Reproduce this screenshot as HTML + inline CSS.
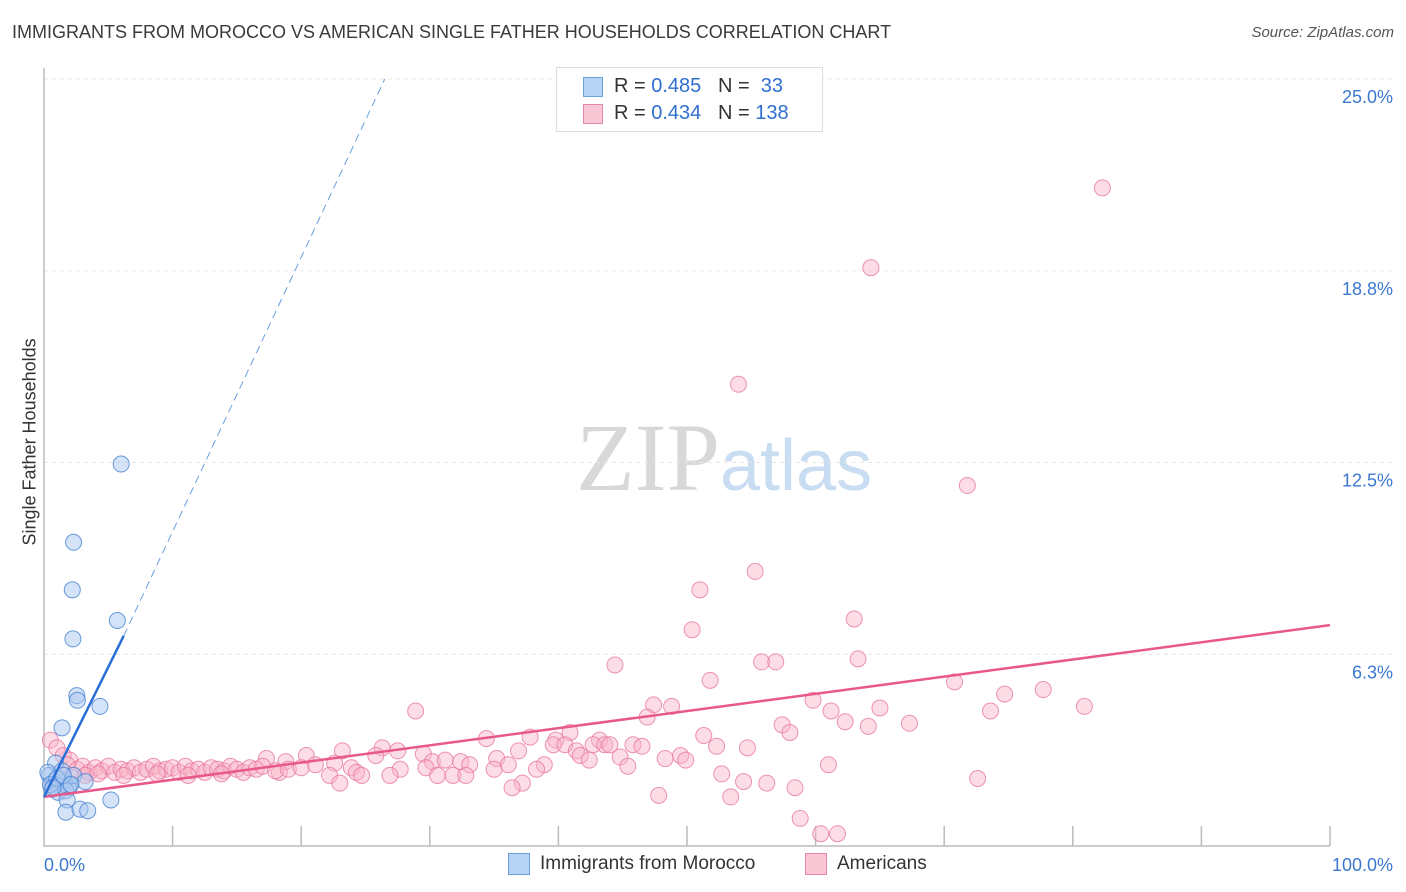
<!DOCTYPE html>
<html><head><meta charset="utf-8"><style>
body{margin:0;background:#fff;font-family:"Liberation Sans",sans-serif;}
#wrap{position:relative;width:1406px;height:892px;overflow:hidden;}
.t{position:absolute;white-space:nowrap;}
</style></head><body>
<div id="wrap">
<div class="t" style="left:12px;top:22px;font-size:18px;color:#3a3a3a;">IMMIGRANTS FROM MOROCCO VS AMERICAN SINGLE FATHER HOUSEHOLDS CORRELATION CHART</div>
<div class="t" style="right:12px;top:24px;font-size:15px;color:#555;font-style:italic;">Source: ZipAtlas.com</div>
<svg id="svg" width="1406" height="892" style="position:absolute;left:0;top:0">
<text x="720" y="490" font-size="96" font-family="Liberation Serif" fill="#d8d8d8" text-anchor="end">ZIP</text>
<text x="720" y="490" font-size="72" fill="#c8dcf2">atlas</text>
<g id="grid"></g><g id="pts"></g><g id="lines"></g>
</svg>
<div style="position:absolute;left:556px;top:67px;width:265px;height:63px;border:1px solid #ddd;background:#fff;font-size:20px;color:#333;">
<div style="position:absolute;left:26px;top:9px;width:18px;height:18px;background:#b8d4f5;border:1px solid #6a9fe0;"></div>
<div class="t" style="left:57px;top:7px;">R = <span style="color:#2f6fd0">0.485</span>&nbsp;&nbsp;&nbsp;N = &nbsp;<span style="color:#2f6fd0">33</span></div>
<div style="position:absolute;left:26px;top:36px;width:18px;height:18px;background:#f8c6d4;border:1px solid #e888a8;"></div>
<div class="t" style="left:57px;top:34px;">R = <span style="color:#2f6fd0">0.434</span>&nbsp;&nbsp;&nbsp;N = <span style="color:#2f6fd0">138</span></div>
</div>
<div style="position:absolute;left:508px;top:853px;font-size:19px;color:#333;">
<div style="position:absolute;left:0;top:0;width:20px;height:20px;background:#b8d4f5;border:1px solid #6a9fe0;"></div>
<div class="t" style="left:32px;top:0;">Immigrants from Morocco</div>
<div style="position:absolute;left:297px;top:0;width:20px;height:20px;background:#f8c6d4;border:1px solid #e888a8;"></div>
<div class="t" style="left:329px;top:0;">Americans</div>
</div>
<div class="t" style="left:-60px;top:445px;width:180px;text-align:center;transform:rotate(-90deg);font-size:18px;color:#333;">Single Father Households</div>
</div>
<script>
const yTicks=[6.25,12.5,18.75,25];
const yTickLabels=["6.3%","12.5%","18.8%","25.0%"];
const xTickLabels=["0.0%","100.0%"];
const blueX=[6.0,2.3,2.2,2.25,5.7,2.55,2.6,4.35,1.4,0.9,0.4,0.8,1.2,1.6,2.0,0.6,1.1,1.9,0.3,1.4,2.3,1.7,3.2,1.8,1.7,2.8,3.4,5.2,0.5,1.0,1.5,0.7,2.1];
const blueY=[12.45,9.9,8.35,6.75,7.35,4.9,4.75,4.55,3.85,2.7,2.3,2.1,1.95,2.1,2.0,1.85,1.75,1.9,2.4,2.45,2.3,1.8,2.1,1.5,1.1,1.2,1.15,1.5,2.0,2.2,2.3,1.9,2.0];
const pinkX=[82.3,64.3,54.0,71.8,55.3,51.0,50.4,63.0,44.4,55.8,56.9,63.3,51.8,70.8,77.7,74.7,59.8,80.9,47.4,48.8,65.0,73.6,61.2,28.9,46.9,62.3,67.3,57.4,64.1,58.0,40.9,51.3,34.4,37.8,39.8,43.2,42.7,43.6,44.0,39.6,40.5,26.3,23.2,27.5,36.9,52.3,54.7,45.8,46.5,41.4,41.7,44.8,29.5,25.8,20.4,17.3,18.8,21.1,22.6,23.9,30.2,31.2,32.4,33.1,35.2,36.1,42.4,48.3,49.5,49.9,38.9,45.4,61.0,27.7,29.7,24.3,30.6,31.8,35.0,38.3,32.8,26.9,24.7,22.2,18.3,52.7,72.6,54.4,56.2,37.2,36.4,23.0,58.4,47.8,53.4,58.8,60.4,61.7,0.5,1.0,1.5,2.0,1.8,2.6,3.0,3.5,4.0,4.5,5.0,5.5,6.0,6.5,7.0,7.5,8.0,8.5,9.0,9.5,10.0,10.5,11.0,11.5,12.0,12.5,13.0,13.5,14.0,14.5,15.0,15.5,16.0,16.5,17.0,18.0,19.0,20.0,3.2,4.2,6.2,8.8,11.2,13.8];
const pinkY=[21.45,18.85,15.05,11.75,8.95,8.35,7.05,7.4,5.9,6.0,6.0,6.1,5.4,5.35,5.1,4.95,4.75,4.55,4.6,4.55,4.5,4.4,4.4,4.4,4.2,4.05,4.0,3.95,3.9,3.7,3.7,3.6,3.5,3.55,3.45,3.45,3.3,3.3,3.3,3.3,3.3,3.2,3.1,3.1,3.1,3.25,3.2,3.3,3.25,3.1,2.95,2.9,3.0,2.95,2.95,2.85,2.75,2.65,2.7,2.55,2.75,2.8,2.75,2.65,2.85,2.65,2.8,2.85,2.95,2.8,2.65,2.6,2.65,2.5,2.55,2.4,2.3,2.3,2.5,2.5,2.3,2.3,2.3,2.3,2.4,2.35,2.2,2.1,2.05,2.05,1.9,2.05,1.9,1.65,1.6,0.9,0.4,0.4,3.45,3.2,2.95,2.8,2.65,2.5,2.6,2.4,2.55,2.45,2.6,2.4,2.5,2.45,2.55,2.4,2.5,2.6,2.45,2.5,2.55,2.4,2.6,2.45,2.5,2.4,2.55,2.5,2.45,2.6,2.5,2.4,2.55,2.5,2.6,2.45,2.5,2.55,2.3,2.35,2.3,2.35,2.3,2.35];
const blueTrend=[[0,1.6],[6.2,6.85],[26.5,25]];
const pinkTrend=[[0,1.6],[100,7.2]];
const X0=44,X1=1330,Y0=846,Y25=79;
const sx=v=>X0+(X1-X0)*v/100, sy=v=>Y0-(Y0-Y25)*v/25;
const NS="http://www.w3.org/2000/svg";
function mk(tag,attrs,parent){const e=document.createElementNS(NS,tag);for(const k in attrs)e.setAttribute(k,attrs[k]);parent.appendChild(e);return e;}
const g=document.getElementById('grid'),p=document.getElementById('pts'),l=document.getElementById('lines'),svg=document.getElementById('svg');
yTicks.forEach((v,i)=>{
 const ln=mk('line',{x1:X0,x2:1392,y1:sy(v),y2:sy(v),stroke:'#e6e6e6','stroke-dasharray':'4,4'},g);
 
 const t=mk('text',{x:1393,y:sy(v)+24,'text-anchor':'end','font-size':18,fill:'#3b78d0'},g);t.textContent=yTickLabels[i];
 
});
const ax=mk('path',{d:`M${X0},68V${Y0}H${X1}`,stroke:'#bbb',fill:'none','stroke-width':1.5},g);

for(let i=1;i<=10;i++){const tk=mk('line',{x1:sx(i*10),x2:sx(i*10),y1:Y0-20,y2:Y0,stroke:'#bbb','stroke-width':1.5},g);
 }
[[0,'start',44],[100,'end',1393]].forEach((d,i)=>{const t=mk('text',{x:d[2],y:871,'text-anchor':d[1],'font-size':18,fill:'#3b78d0'},g);t.textContent=xTickLabels[i];
 });
pinkX.forEach((v,i)=>{const c=mk('circle',{cx:sx(v),cy:sy(pinkY[i]),r:8,fill:'rgba(248,180,200,0.45)',stroke:'rgba(232,120,160,0.8)','stroke-width':1},p);
 });
blueX.forEach((v,i)=>{const c=mk('circle',{cx:sx(v),cy:sy(blueY[i]),r:8,fill:'rgba(170,200,240,0.5)',stroke:'rgba(70,130,210,0.8)','stroke-width':1},p);
 });
const pl=mk('line',{x1:sx(pinkTrend[0][0]),y1:sy(pinkTrend[0][1]),x2:sx(pinkTrend[1][0]),y2:sy(pinkTrend[1][1]),stroke:'#e8588a','stroke-width':2.5},l);

const bl=mk('line',{x1:sx(blueTrend[0][0]),y1:sy(blueTrend[0][1]),x2:sx(blueTrend[1][0]),y2:sy(blueTrend[1][1]),stroke:'#2a6fd6','stroke-width':2.5},l);

const bd=mk('line',{x1:sx(blueTrend[1][0]),y1:sy(blueTrend[1][1]),x2:sx(blueTrend[2][0]),y2:sy(blueTrend[2][1]),stroke:'#6a9fe0','stroke-width':1,'stroke-dasharray':'8,5'},l);

</script>
</body></html>
